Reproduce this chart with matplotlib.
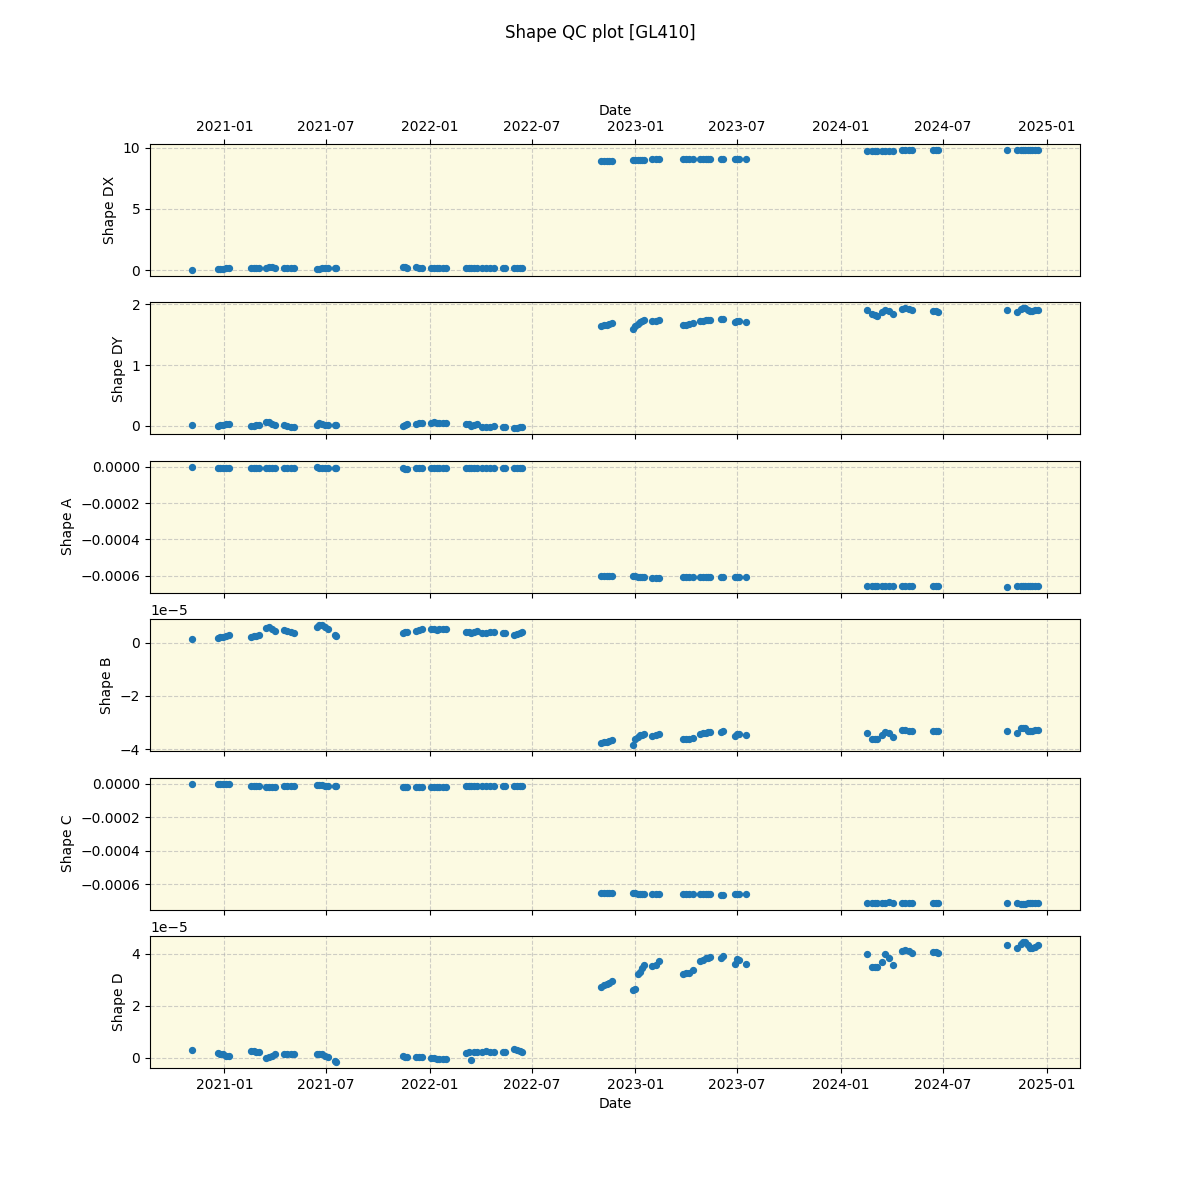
import matplotlib
matplotlib.use("Agg")
import matplotlib.pyplot as plt
import matplotlib.dates as mdates
import numpy as np
import pandas as pd

dates = [
    "2020-11-05",
    "2020-12-20", "2020-12-25", "2020-12-30", "2021-01-04", "2021-01-09",
    "2021-02-17", "2021-02-22", "2021-02-27", "2021-03-04",
    "2021-03-16", "2021-03-21", "2021-03-26", "2021-04-01",
    "2021-04-17", "2021-04-23", "2021-04-29", "2021-05-05",
    "2021-06-14", "2021-06-19", "2021-06-24", "2021-06-29", "2021-07-04",
    "2021-07-16", "2021-07-19",
    "2021-11-14", "2021-11-18", "2021-11-22",
    "2021-12-08", "2021-12-13", "2021-12-18",
    "2022-01-03", "2022-01-08", "2022-01-13", "2022-01-18", "2022-01-24", "2022-01-29",
    "2022-03-06", "2022-03-11", "2022-03-16", "2022-03-21", "2022-03-26",
    "2022-04-04", "2022-04-11", "2022-04-18", "2022-04-25",
    "2022-05-11", "2022-05-15",
    "2022-05-31", "2022-06-05", "2022-06-10", "2022-06-14",
    "2022-11-01", "2022-11-06", "2022-11-11", "2022-11-16", "2022-11-21",
    "2022-12-28", "2023-01-01", "2023-01-05", "2023-01-09", "2023-01-13", "2023-01-17",
    "2023-01-30", "2023-02-06", "2023-02-13",
    "2023-03-27", "2023-04-01", "2023-04-07", "2023-04-13",
    "2023-04-26", "2023-05-01", "2023-05-06", "2023-05-10", "2023-05-14",
    "2023-06-02", "2023-06-06",
    "2023-06-27", "2023-07-01", "2023-07-05",
    "2023-07-17",
    "2024-02-17", "2024-02-26", "2024-03-02", "2024-03-06",
    "2024-03-15", "2024-03-20", "2024-03-26", "2024-04-03",
    "2024-04-19", "2024-04-25", "2024-05-01", "2024-05-07",
    "2024-06-13", "2024-06-18", "2024-06-22",
    "2024-10-22",
    "2024-11-09", "2024-11-16", "2024-11-20", "2024-11-24", "2024-11-28",
    "2024-12-02", "2024-12-06", "2024-12-11", "2024-12-16",
]

shape_dx = [
    0.0,
    0.08, 0.08, 0.10, 0.15, 0.15,
    0.15, 0.15, 0.15, 0.15,
    0.20, 0.22, 0.22, 0.20,
    0.15, 0.15, 0.15, 0.15,
    0.10, 0.12, 0.15, 0.15, 0.15,
    0.15, 0.15,
    0.22, 0.22, 0.20,
    0.22, 0.20, 0.20,
    0.20, 0.20, 0.20, 0.20, 0.20, 0.20,
    0.15, 0.15, 0.15, 0.15, 0.15,
    0.15, 0.15, 0.15, 0.15,
    0.15, 0.15,
    0.15, 0.15, 0.15, 0.15,
    8.88, 8.90, 8.90, 8.92, 8.90,
    8.95, 8.95, 8.97, 8.97, 8.97, 8.97,
    9.05, 9.05, 9.05,
    9.05, 9.05, 9.05, 9.05,
    9.05, 9.05, 9.05, 9.05, 9.05,
    9.05, 9.05,
    9.05, 9.05, 9.05,
    9.05,
    9.72, 9.72, 9.72, 9.72,
    9.72, 9.72, 9.72, 9.72,
    9.80, 9.80, 9.80, 9.80,
    9.80, 9.80, 9.80,
    9.80,
    9.80, 9.80, 9.80, 9.80, 9.80, 9.80, 9.80, 9.80, 9.80,
]

shape_dy = [
    0.01,
    0.00, 0.01, 0.02, 0.04, 0.03,
    0.00, 0.00, 0.01, 0.02,
    0.06, 0.07, 0.04, 0.02,
    0.01, 0.00, -0.01, -0.02,
    0.02, 0.05, 0.04, 0.02, 0.02,
    0.01, 0.01,
    0.00, 0.02, 0.03,
    0.04, 0.05, 0.05,
    0.05, 0.06, 0.05, 0.05, 0.05, 0.05,
    0.04, 0.03, 0.00, 0.02, 0.03,
    -0.02, -0.01, -0.01, 0.00,
    -0.01, -0.02,
    -0.04, -0.03, -0.02, -0.01,
    1.64, 1.65, 1.66, 1.67, 1.69,
    1.60, 1.64, 1.68, 1.71, 1.73, 1.74,
    1.72, 1.73, 1.74,
    1.66, 1.66, 1.67, 1.69,
    1.72, 1.73, 1.74, 1.74, 1.74,
    1.75, 1.76,
    1.70, 1.72, 1.73,
    1.71,
    1.91, 1.84, 1.82, 1.81,
    1.87, 1.91, 1.88, 1.83,
    1.92, 1.93, 1.92, 1.91,
    1.89, 1.88, 1.87,
    1.91,
    1.87, 1.92, 1.93, 1.93, 1.91, 1.88, 1.88, 1.90, 1.91,
]

shape_a = [
    0.0,
    -0.000005, -0.000005, -0.000005, -0.000005, -0.000005,
    -0.000005, -0.000005, -0.000005, -0.000005,
    -0.000005, -0.000005, -0.000005, -0.000005,
    -0.000005, -0.000005, -0.000005, -0.000005,
    -0.000003, -0.000004, -0.000005, -0.000006, -0.000006,
    -0.000005, -0.000005,
    -0.000008, -0.000010, -0.000010,
    -0.000006, -0.000006, -0.000006,
    -0.000006, -0.000006, -0.000006, -0.000006, -0.000006, -0.000006,
    -0.000006, -0.000006, -0.000006, -0.000006, -0.000006,
    -0.000006, -0.000006, -0.000006, -0.000006,
    -0.000006, -0.000006,
    -0.000006, -0.000006, -0.000006, -0.000006,
    -0.000600, -0.000601, -0.000602, -0.000603, -0.000604,
    -0.000605, -0.000605, -0.000606, -0.000606, -0.000606, -0.000606,
    -0.000611, -0.000611, -0.000611,
    -0.000610, -0.000610, -0.000610, -0.000610,
    -0.000610, -0.000610, -0.000610, -0.000610, -0.000610,
    -0.000610, -0.000610,
    -0.000610, -0.000610, -0.000610,
    -0.000610,
    -0.000656, -0.000656, -0.000656, -0.000656,
    -0.000656, -0.000656, -0.000656, -0.000656,
    -0.000660, -0.000660, -0.000660, -0.000660,
    -0.000660, -0.000660, -0.000660,
    -0.000662,
    -0.000658, -0.000660, -0.000660, -0.000660, -0.000660, -0.000660, -0.000660, -0.000660, -0.000660,
]

shape_b_e5 = [
    0.15,
    0.19, 0.20, 0.22, 0.27, 0.29,
    0.23, 0.24, 0.26, 0.28,
    0.55, 0.60, 0.52, 0.44,
    0.48, 0.46, 0.42, 0.38,
    0.60, 0.66, 0.65, 0.58, 0.52,
    0.30, 0.27,
    0.38, 0.40, 0.42,
    0.46, 0.48, 0.50,
    0.50, 0.50, 0.49, 0.50, 0.50, 0.50,
    0.42, 0.40, 0.35, 0.42, 0.44,
    0.35, 0.38, 0.40, 0.42,
    0.35, 0.36,
    0.29, 0.33, 0.37, 0.42,
    -3.76, -3.74, -3.72, -3.68, -3.65,
    -3.85, -3.62, -3.55, -3.48, -3.45, -3.43,
    -3.50, -3.45, -3.42,
    -3.63, -3.63, -3.60, -3.57,
    -3.42, -3.40, -3.38, -3.37, -3.36,
    -3.34, -3.32,
    -3.50, -3.44, -3.42,
    -3.47,
    -3.40, -3.60, -3.63, -3.62,
    -3.48, -3.36, -3.40, -3.55,
    -3.26, -3.27, -3.30, -3.32,
    -3.31, -3.31, -3.32,
    -3.32,
    -3.41, -3.22, -3.21, -3.22, -3.30, -3.33, -3.32, -3.29, -3.27,
]

shape_c = [
    0.0,
    -0.000004, -0.000004, -0.000004, -0.000004, -0.000004,
    -0.000014, -0.000014, -0.000014, -0.000014,
    -0.000020, -0.000020, -0.000020, -0.000020,
    -0.000013, -0.000013, -0.000013, -0.000013,
    -0.000008, -0.000010, -0.000010, -0.000012, -0.000012,
    -0.000013, -0.000013,
    -0.000020, -0.000020, -0.000020,
    -0.000020, -0.000020, -0.000020,
    -0.000020, -0.000020, -0.000020, -0.000020, -0.000020, -0.000020,
    -0.000015, -0.000015, -0.000015, -0.000015, -0.000015,
    -0.000015, -0.000015, -0.000015, -0.000015,
    -0.000015, -0.000015,
    -0.000015, -0.000015, -0.000015, -0.000015,
    -0.000654, -0.000654, -0.000654, -0.000654, -0.000654,
    -0.000654, -0.000656, -0.000658, -0.000660, -0.000660, -0.000660,
    -0.000660, -0.000660, -0.000660,
    -0.000660, -0.000660, -0.000660, -0.000660,
    -0.000660, -0.000660, -0.000660, -0.000660, -0.000660,
    -0.000668, -0.000668,
    -0.000658, -0.000658, -0.000658,
    -0.000660,
    -0.000714, -0.000714, -0.000714, -0.000714,
    -0.000714, -0.000714, -0.000710, -0.000712,
    -0.000714, -0.000714, -0.000714, -0.000714,
    -0.000714, -0.000714, -0.000714,
    -0.000714,
    -0.000714, -0.000717, -0.000717, -0.000717, -0.000716, -0.000716, -0.000716, -0.000715, -0.000715,
]

shape_d_e5 = [
    0.30,
    0.18, 0.15, 0.12, 0.08, 0.07,
    0.26, 0.25, 0.23, 0.20,
    0.00, 0.02, 0.08, 0.12,
    0.12, 0.12, 0.12, 0.12,
    0.15, 0.14, 0.12, 0.07, 0.04,
    -0.15, -0.17,
    0.05, 0.03, 0.02,
    0.03, 0.03, 0.02,
    -0.01, -0.03, -0.05, -0.05, -0.05, -0.04,
    0.16, 0.20, -0.08, 0.20, 0.22,
    0.22, 0.24, 0.23, 0.20,
    0.23, 0.22,
    0.33, 0.30, 0.25, 0.20,
    2.73, 2.78, 2.83, 2.88, 2.93,
    2.62, 2.63, 3.20, 3.30, 3.45, 3.58,
    3.53, 3.57, 3.72,
    3.22, 3.24, 3.26, 3.38,
    3.73, 3.77, 3.82, 3.85, 3.87,
    3.85, 3.90,
    3.60, 3.80, 3.77,
    3.61,
    4.00, 3.50, 3.47, 3.48,
    3.68, 3.98, 3.85, 3.55,
    4.12, 4.13, 4.10, 4.04,
    4.08, 4.05, 4.01,
    4.35,
    4.20, 4.38, 4.45, 4.45, 4.35, 4.22, 4.20, 4.25, 4.33,
]

labels = ["Shape DX", "Shape DY", "Shape A", "Shape B", "Shape C", "Shape D"]
series = [
    np.array(shape_dx),
    np.array(shape_dy),
    np.array(shape_a),
    np.array(shape_b_e5) * 1e-5,
    np.array(shape_c),
    np.array(shape_d_e5) * 1e-5,
]

x = pd.to_datetime(dates)

fig, axes = plt.subplots(6, 1, figsize=(12, 12), dpi=100, sharex=True)
fig.suptitle("Shape QC plot [GL410]", fontsize=12)

for ax, lab, vals in zip(axes, labels, series):
    ax.set_facecolor("#fcfae2")
    ax.scatter(x, vals, s=18, color="#1f77b4", zorder=3)
    ax.set_ylabel(lab)
    ax.grid(True, linestyle="--", color="#b0b0b0", alpha=0.6, zorder=0)
    ax.set_axisbelow(True)
    ax.xaxis.set_major_locator(mdates.MonthLocator(bymonth=[1, 7]))
    ax.xaxis.set_major_formatter(mdates.DateFormatter("%Y-%m"))

top = axes[0]
top.tick_params(axis="x", top=True, labeltop=True, bottom=False, labelbottom=False)
top.xaxis.set_label_position("top")
top.set_xlabel("Date")
axes[-1].set_xlabel("Date")

fig.savefig("out.png", dpi=100)
